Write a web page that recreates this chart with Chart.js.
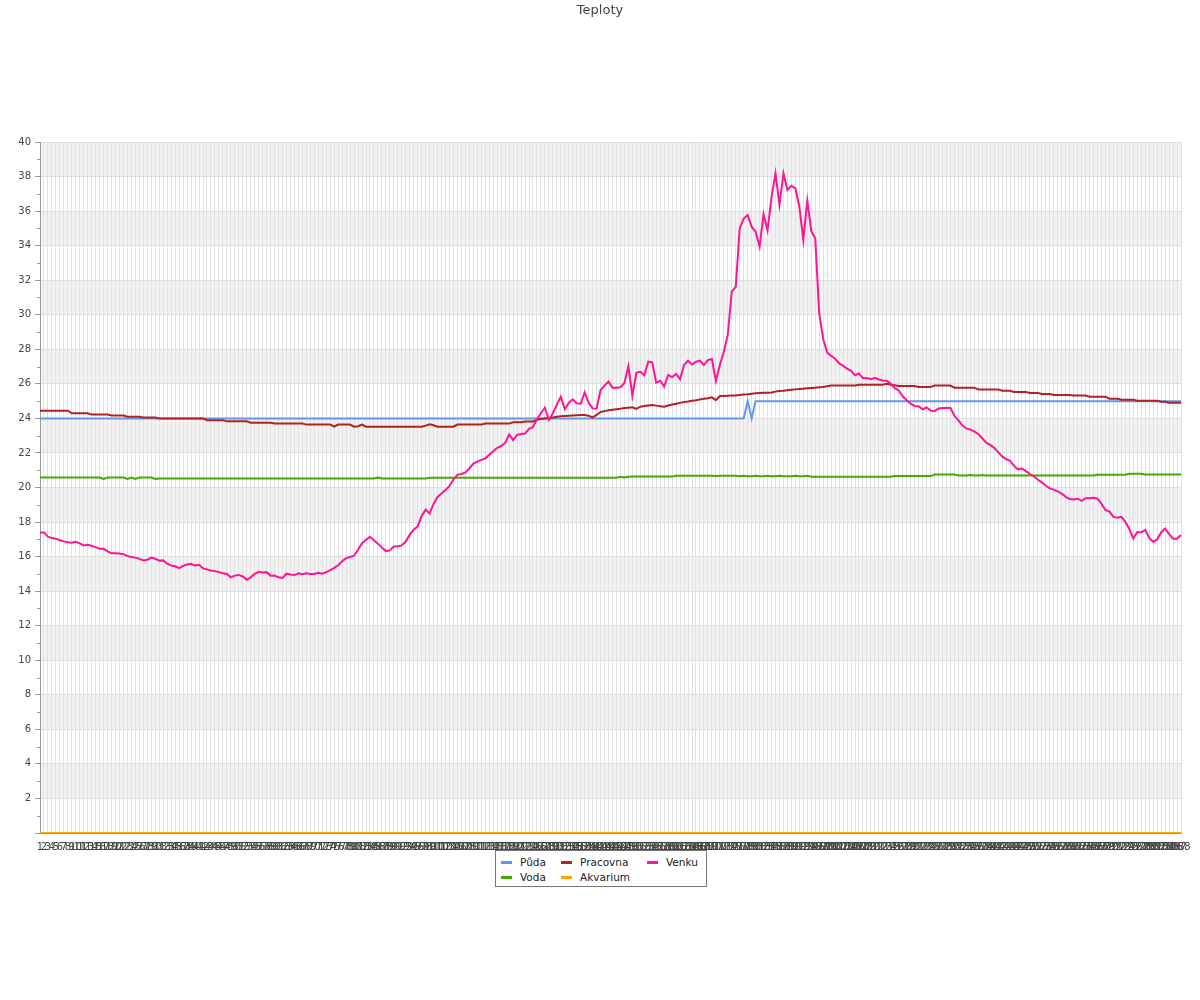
<!DOCTYPE html>
<html>
<head>
<meta charset="utf-8">
<title>Teploty</title>
<script src="https://cdn.jsdelivr.net/npm/chart.js@4.4.1/dist/chart.umd.min.js"></script>
<style>
  body { margin: 0; background: #fff; }
  #wrap { position: relative; width: 1200px; height: 1000px; }
  #legend {
    position: absolute; left: 495px; top: 850px; width: 210px; height: 35px;
    border: 1px solid #777; background: #fff;
    font: 10.5px "DejaVu Sans", sans-serif; color: #222;
  }
  .item { position: absolute; height: 14px; line-height: 14px; }
  .swatch { position: absolute; top: 6px; left: 0; width: 11px; height: 3px; }
  .lbl { position: absolute; left: 19px; top: 0; white-space: nowrap; }
</style>
</head>
<body>
<div id="wrap">
  <canvas id="chart" width="1200" height="1000"></canvas>
  <div id="legend"></div>
</div>
<script>
// --- data (5 minute samples, 288 per day) --- //
const chartTitle = 'Teploty';

const labels = [];
for (let i = 1; i <= 288; i++) labels.push(String(i));

const puda = [
  24,24,24,24,24,24,24,24,24,24,24,24,
  24,24,24,24,24,24,24,24,24,24,24,24,
  24,24,24,24,24,24,24,24,24,24,24,24,
  24,24,24,24,24,24,24,24,24,24,24,24,
  24,24,24,24,24,24,24,24,24,24,24,24,
  24,24,24,24,24,24,24,24,24,24,24,24,
  24,24,24,24,24,24,24,24,24,24,24,24,
  24,24,24,24,24,24,24,24,24,24,24,24,
  24,24,24,24,24,24,24,24,24,24,24,24,
  24,24,24,24,24,24,24,24,24,24,24,24,
  24,24,24,24,24,24,24,24,24,24,24,24,
  24,24,24,24,24,24,24,24,24,24,24,24,
  24,24,24,24,24,24,24,24,24,24,24,24,
  24,24,24,24,24,24,24,24,24,24,24,24,
  24,24,24,24,24,24,24,24,24,24,25,24,
  25,25,25,25,25,25,25,25,25,25,25,25,
  25,25,25,25,25,25,25,25,25,25,25,25,
  25,25,25,25,25,25,25,25,25,25,25,25,
  25,25,25,25,25,25,25,25,25,25,25,25,
  25,25,25,25,25,25,25,25,25,25,25,25,
  25,25,25,25,25,25,25,25,25,25,25,25,
  25,25,25,25,25,25,25,25,25,25,25,25,
  25,25,25,25,25,25,25,25,25,25,25,25,
  25,25,25,25,25,25,25,25,25,25,25,25
];

const pracovna = [
  24.45,24.45,24.45,24.45,24.45,24.45,24.45,24.45,24.3,24.3,24.3,24.3,
  24.3,24.22,24.22,24.22,24.22,24.22,24.17,24.17,24.17,24.17,24.1,24.1,
  24.1,24.1,24.05,24.05,24.05,24.05,24.0,24.0,24.0,24.0,24.0,24.0,
  24.0,24.0,24.0,24.0,24.0,24.0,23.9,23.9,23.9,23.9,23.9,23.83,
  23.83,23.83,23.83,23.83,23.83,23.75,23.75,23.75,23.75,23.75,23.75,23.7,
  23.7,23.7,23.7,23.7,23.7,23.7,23.7,23.64,23.64,23.64,23.64,23.64,
  23.64,23.64,23.52,23.64,23.64,23.64,23.64,23.52,23.55,23.64,23.52,23.52,
  23.52,23.52,23.52,23.52,23.52,23.52,23.52,23.52,23.52,23.52,23.52,23.52,
  23.52,23.58,23.66,23.6,23.52,23.52,23.52,23.52,23.52,23.64,23.64,23.64,
  23.64,23.64,23.64,23.64,23.7,23.7,23.7,23.7,23.7,23.7,23.7,23.78,
  23.78,23.78,23.82,23.82,23.82,23.92,23.96,24.0,24.02,24.05,24.1,24.12,
  24.14,24.16,24.17,24.18,24.19,24.2,24.15,24.06,24.2,24.37,24.42,24.47,
  24.5,24.53,24.56,24.6,24.62,24.64,24.55,24.68,24.72,24.75,24.78,24.74,
  24.7,24.68,24.75,24.8,24.85,24.9,24.95,24.98,25.02,25.05,25.1,25.14,
  25.17,25.22,25.06,25.3,25.3,25.31,25.32,25.33,25.36,25.38,25.4,25.43,
  25.45,25.47,25.48,25.48,25.5,25.55,25.58,25.6,25.63,25.66,25.68,25.7,
  25.72,25.74,25.76,25.78,25.8,25.82,25.86,25.9,25.9,25.9,25.9,25.9,
  25.9,25.9,25.95,25.95,25.95,25.95,25.95,25.95,25.95,26.0,25.95,25.92,
  25.88,25.88,25.88,25.88,25.88,25.82,25.82,25.82,25.82,25.9,25.9,25.9,
  25.9,25.9,25.78,25.78,25.78,25.78,25.78,25.78,25.68,25.68,25.68,25.68,
  25.68,25.68,25.6,25.6,25.6,25.53,25.53,25.53,25.53,25.47,25.47,25.47,
  25.41,25.41,25.41,25.35,25.35,25.35,25.35,25.35,25.32,25.32,25.32,25.32,
  25.26,25.26,25.26,25.26,25.26,25.14,25.14,25.14,25.08,25.08,25.08,25.08,
  25.02,25.02,25.02,25.02,25.02,25.02,24.96,24.96,24.9,24.9,24.9,24.9
];

const venku = [
  17.4,17.4,17.15,17.07,17.04,16.95,16.88,16.83,16.8,16.86,16.77,16.65,
  16.68,16.63,16.55,16.46,16.45,16.3,16.2,16.19,16.18,16.14,16.03,15.98,
  15.94,15.87,15.78,15.82,15.94,15.88,15.76,15.78,15.59,15.48,15.44,15.33,
  15.46,15.54,15.59,15.48,15.53,15.32,15.26,15.2,15.16,15.11,15.03,14.99,
  14.8,14.9,14.94,14.85,14.66,14.8,15.0,15.12,15.08,15.1,14.89,14.9,
  14.8,14.76,15.01,14.96,14.93,15.03,14.98,15.03,14.99,14.99,15.06,15.01,
  15.1,15.22,15.35,15.5,15.73,15.91,15.98,16.05,16.4,16.78,16.97,17.15,
  16.95,16.75,16.53,16.32,16.36,16.58,16.6,16.65,16.87,17.27,17.56,17.75,
  18.35,18.72,18.5,19.05,19.45,19.65,19.85,20.09,20.47,20.73,20.78,20.87,
  21.1,21.38,21.5,21.6,21.67,21.9,22.1,22.3,22.4,22.58,23.07,22.75,
  23.05,23.1,23.12,23.4,23.5,23.95,24.3,24.62,23.91,24.3,24.8,25.26,
  24.53,24.9,25.1,24.87,24.85,25.51,24.9,24.58,24.56,25.64,25.9,26.13,
  25.78,25.78,25.8,26.05,27.03,25.3,26.64,26.7,26.5,27.28,27.24,26.07,
  26.18,25.84,26.51,26.39,26.57,26.26,27.09,27.34,27.12,27.28,27.34,27.09,
  27.38,27.44,26.17,27.09,27.86,28.83,31.34,31.62,35.0,35.57,35.77,35.1,
  34.81,33.95,35.82,34.89,36.8,38.19,36.35,38.19,37.22,37.47,37.31,36.25,
  34.33,36.6,34.85,34.42,30.08,28.6,27.8,27.62,27.45,27.18,27.05,26.88,
  26.75,26.5,26.6,26.32,26.34,26.27,26.35,26.25,26.2,26.18,26.0,25.75,
  25.62,25.28,25.05,24.85,24.72,24.7,24.53,24.63,24.45,24.42,24.58,24.6,
  24.62,24.6,24.15,23.88,23.6,23.42,23.35,23.25,23.1,22.85,22.6,22.47,
  22.3,22.05,21.8,21.64,21.55,21.25,21.05,21.1,20.95,20.78,20.65,20.45,
  20.3,20.1,19.95,19.88,19.78,19.65,19.46,19.33,19.3,19.35,19.23,19.38,
  19.38,19.4,19.35,19.05,18.7,18.6,18.3,18.25,18.3,18.02,17.6,17.05,
  17.42,17.4,17.55,17.1,16.85,17.0,17.4,17.62,17.3,17.04,17.04,17.25
];

const voda = [
  20.58,20.58,20.58,20.58,20.58,20.58,20.58,20.58,20.58,20.58,20.58,20.58,
  20.58,20.58,20.58,20.58,20.5,20.58,20.58,20.58,20.58,20.58,20.5,20.58,
  20.5,20.58,20.58,20.58,20.58,20.5,20.52,20.52,20.52,20.52,20.52,20.52,
  20.52,20.52,20.52,20.52,20.52,20.52,20.52,20.52,20.52,20.52,20.52,20.52,
  20.52,20.52,20.52,20.52,20.52,20.52,20.52,20.52,20.52,20.52,20.52,20.52,
  20.52,20.52,20.52,20.52,20.52,20.52,20.52,20.52,20.52,20.52,20.52,20.52,
  20.52,20.52,20.52,20.52,20.52,20.52,20.52,20.52,20.52,20.52,20.52,20.52,
  20.52,20.58,20.52,20.52,20.52,20.52,20.52,20.52,20.52,20.52,20.52,20.52,
  20.52,20.52,20.57,20.57,20.57,20.57,20.57,20.57,20.57,20.57,20.57,20.57,
  20.57,20.57,20.57,20.57,20.57,20.57,20.57,20.57,20.57,20.57,20.57,20.57,
  20.57,20.57,20.57,20.57,20.57,20.57,20.57,20.57,20.57,20.57,20.57,20.57,
  20.57,20.57,20.57,20.57,20.57,20.57,20.57,20.57,20.57,20.57,20.57,20.57,
  20.57,20.57,20.62,20.58,20.62,20.63,20.63,20.63,20.63,20.63,20.63,20.63,
  20.63,20.63,20.63,20.63,20.68,20.68,20.68,20.68,20.68,20.68,20.68,20.68,
  20.68,20.68,20.66,20.68,20.68,20.68,20.68,20.68,20.65,20.68,20.65,20.65,
  20.68,20.65,20.65,20.68,20.65,20.65,20.68,20.65,20.65,20.65,20.68,20.65,
  20.65,20.68,20.62,20.62,20.62,20.62,20.62,20.62,20.62,20.62,20.62,20.62,
  20.62,20.62,20.62,20.62,20.62,20.62,20.62,20.62,20.62,20.62,20.62,20.66,
  20.66,20.66,20.66,20.66,20.66,20.66,20.66,20.66,20.66,20.75,20.75,20.75,
  20.75,20.75,20.75,20.7,20.7,20.7,20.73,20.7,20.7,20.73,20.7,20.7,
  20.7,20.7,20.7,20.7,20.7,20.7,20.7,20.7,20.7,20.7,20.7,20.7,
  20.7,20.7,20.7,20.7,20.7,20.7,20.7,20.7,20.7,20.7,20.7,20.7,
  20.7,20.7,20.74,20.74,20.74,20.74,20.74,20.74,20.74,20.74,20.8,20.8,
  20.8,20.8,20.75,20.75,20.75,20.75,20.75,20.75,20.75,20.75,20.75,20.75
];

const akvarium = [
  0,0,0,0,0,0,0,0,0,0,0,0, 0,0,0,0,0,0,0,0,0,0,0,0,
  0,0,0,0,0,0,0,0,0,0,0,0, 0,0,0,0,0,0,0,0,0,0,0,0,
  0,0,0,0,0,0,0,0,0,0,0,0, 0,0,0,0,0,0,0,0,0,0,0,0,
  0,0,0,0,0,0,0,0,0,0,0,0, 0,0,0,0,0,0,0,0,0,0,0,0,
  0,0,0,0,0,0,0,0,0,0,0,0, 0,0,0,0,0,0,0,0,0,0,0,0,
  0,0,0,0,0,0,0,0,0,0,0,0, 0,0,0,0,0,0,0,0,0,0,0,0,
  0,0,0,0,0,0,0,0,0,0,0,0, 0,0,0,0,0,0,0,0,0,0,0,0,
  0,0,0,0,0,0,0,0,0,0,0,0, 0,0,0,0,0,0,0,0,0,0,0,0,
  0,0,0,0,0,0,0,0,0,0,0,0, 0,0,0,0,0,0,0,0,0,0,0,0,
  0,0,0,0,0,0,0,0,0,0,0,0, 0,0,0,0,0,0,0,0,0,0,0,0,
  0,0,0,0,0,0,0,0,0,0,0,0, 0,0,0,0,0,0,0,0,0,0,0,0,
  0,0,0,0,0,0,0,0,0,0,0,0, 0,0,0,0,0,0,0,0,0,0,0,0
];

// legend layout: [name, colour, column x, row y] inside the box
const legendItems = [
  ['Půda', '#6495ed', 5, 4],
  ['Pracovna', '#b22222', 65, 4],
  ['Venku', '#ff1493', 151, 4],
  ['Voda', '#44aa00', 5, 19],
  ['Akvarium', '#ffa500', 65, 19]
];

// --- Legend --- //
const legendBox = document.getElementById('legend');
legendItems.forEach(([name, colour, x, y]) => {
  legendBox.innerHTML +=
    `<div class="item" style="left:${x}px;top:${y}px">
       <div class="swatch" style="background:${colour}"></div>
       <span class="lbl">${name}</span>
     </div>`;
});

// --- plugins: alternating bands, minor ticks, page-centred title --- //
const bandsPlugin = {
  id: 'bands',
  beforeDraw(chart) {
    const { ctx, chartArea } = chart;
    const y = chart.scales.y;
    ctx.save();
    ctx.fillStyle = '#f2f2f2';
    for (let v = 0; v < 40; v += 2) {
      if ((v / 2) % 2 === 1) {
        const top = y.getPixelForValue(v + 2);
        const bottom = y.getPixelForValue(v);
        ctx.fillRect(chartArea.left, top, chartArea.right - chartArea.left, bottom - top);
      }
    }
    ctx.restore();
  }
};

const minorTicksPlugin = {
  id: 'minorTicks',
  afterDraw(chart) {
    const { ctx, chartArea } = chart;
    const y = chart.scales.y;
    ctx.save();
    ctx.strokeStyle = '#999';
    ctx.lineWidth = 1;
    for (let v = 1; v < 40; v += 2) {
      const py = Math.round(y.getPixelForValue(v)) + 0.5;
      ctx.beginPath();
      ctx.moveTo(chartArea.left - 3, py);
      ctx.lineTo(chartArea.left, py);
      ctx.stroke();
    }
    ctx.restore();
  }
};

// title centred on the whole canvas, not on the plot
const titlePlugin = {
  id: 'pageTitle',
  afterDraw(chart) {
    const ctx = chart.ctx;
    ctx.save();
    ctx.font = '13px "DejaVu Sans", sans-serif';
    ctx.fillStyle = '#444';
    ctx.textAlign = 'center';
    ctx.textBaseline = 'middle';
    ctx.fillText(chartTitle, chart.width / 2, 11);
    ctx.restore();
  }
};

Chart.defaults.font.family = '"DejaVu Sans", sans-serif';

const lineStyle = colour => ({
  borderColor: colour,
  backgroundColor: colour,
  borderWidth: 2,
  pointRadius: 0,
  tension: 0,
  fill: false
});

const tempCanvas = document.getElementById('chart');

let tempChart = new Chart(tempCanvas, {
  type: 'line',
  data: {
    labels: labels,
    datasets: [
      { label: 'Venku', data: venku, ...lineStyle('#ff1493') },
      { label: 'Pracovna', data: pracovna, ...lineStyle('#b22222') },
      { label: 'Půda', data: puda, ...lineStyle('#6495ed') },
      { label: 'Voda', data: voda, ...lineStyle('#44aa00') },
      { label: 'Akvarium', data: akvarium, ...lineStyle('#ffa500') }
    ]
  },
  options: {
    responsive: false,
    devicePixelRatio: 1,
    animation: false,
    layout: {
      padding: { top: 142, left: 0, right: 19, bottom: 147 }
    },
    scales: {
      x: {
        offset: false,
        grid: { color: '#e2e2e2', drawTicks: false },
        border: { color: '#999' },
        ticks: {
          autoSkip: false,
          maxRotation: 0,
          minRotation: 0,
          padding: 8,
          color: '#444',
          font: { size: 10 }
        },
        afterFit: scale => { scale.height = 20; }
      },
      y: {
        min: 0,
        max: 40,
        grid: {
          color: c => (c.tick && c.tick.value % 2 === 0) ? '#dedede' : 'rgba(0,0,0,0)',
          tickColor: c => (c.tick && c.tick.value % 2 === 0) ? '#999' : 'rgba(0,0,0,0)',
          tickLength: 5
        },
        border: { color: '#999' },
        ticks: {
          stepSize: 1,
          autoSkip: false,
          padding: 4,
          color: '#444',
          font: { size: 10 },
          callback: v => (v % 2 === 0 && v > 0) ? v : ''
        },
        afterFit: scale => { scale.width = 40; }
      }
    },
    plugins: {
      title: { display: false },
      legend: { display: false },
      tooltip: { enabled: false }
    }
  },
  plugins: [bandsPlugin, minorTicksPlugin, titlePlugin]
});
</script>
</body>
</html>
